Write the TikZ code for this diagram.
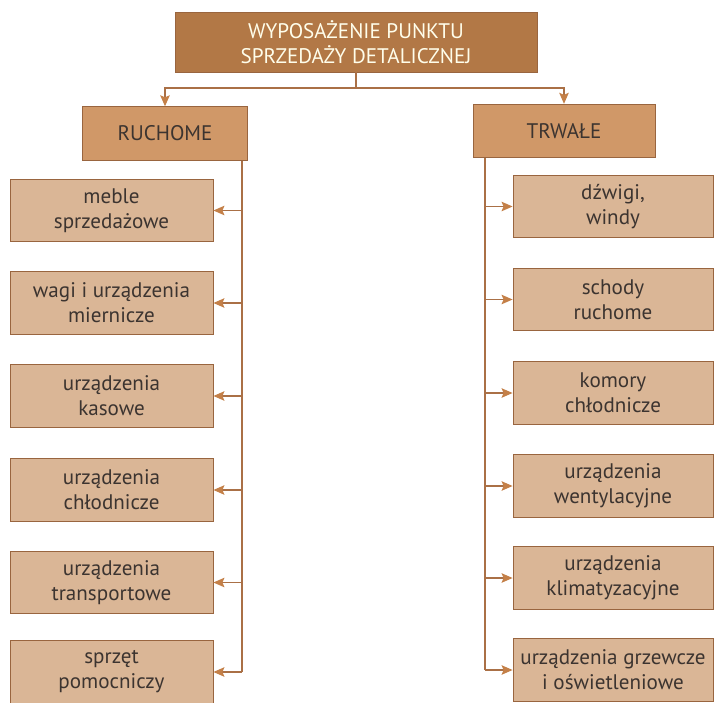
\documentclass[tikz,border=0pt]{standalone}
\usepackage{fontspec}
\setmainfont{PT Sans}
\usetikzlibrary{arrows.meta,positioning}
\definecolor{topcolor}{RGB}{178,120,70}
\definecolor{groupcolor}{RGB}{208,152,104}
\definecolor{itemcolor}{RGB}{218,182,150}
\definecolor{linecolor}{RGB}{170,112,70}
\definecolor{tipcolor}{RGB}{196,128,72}
\definecolor{textcolor}{RGB}{60,52,48}

\begin{document}
\begin{tikzpicture}[
    x=0.02cm, y=-0.02cm,
    box/.style={rectangle, draw=linecolor!90!black, line width=0.5pt, align=center, text=textcolor, font=\fontsize{12}{14.2}\selectfont},
    topbox/.style={box, fill=topcolor, text=white!92!yellow, minimum width=7.24cm, minimum height=1.2cm},
    groupbox/.style={box, fill=groupcolor, minimum height=1.07cm},
    leftitem/.style={box, fill=itemcolor, minimum width=4.06cm, minimum height=1.25cm},
    rightitem/.style={box, fill=itemcolor, minimum width=4cm, minimum height=1.25cm},
    line/.style={draw=linecolor, line width=0.7pt},
    arrow/.style={line, -{Stealth[length=2.2mm,width=1.9mm,inset=0.4mm,color=tipcolor]}}
]
    \useasboundingbox (0,0) rectangle (714,703);

    % Root
    \node[topbox] (root) at (356,42) {WYPOSAŻENIE PUNKTU\\SPRZEDAŻY DETALICZNEJ};

    % Two groups
    \node[groupbox, minimum width=3.3cm] (ruch) at (165,133.5) {RUCHOME};
    \node[groupbox, minimum width=3.64cm] (trw) at (564,131) {TRWAŁE};

    % Left items
    \node[leftitem] (m1) at (111.5,210.5) {meble\\sprzedażowe};
    \node[leftitem] (m2) at (111.5,303) {wagi i urządzenia\\miernicze};
    \node[leftitem] (m3) at (111.5,396) {urządzenia\\kasowe};
    \node[leftitem] (m4) at (111.5,490) {urządzenia\\chłodnicze};
    \node[leftitem] (m5) at (111.5,582.5) {urządzenia\\transportowe};
    \node[leftitem] (m6) at (111.5,672) {sprzęt\\pomocniczy};

    % Right items
    \node[rightitem] (t1) at (613,206.5) {dźwigi,\\windy};
    \node[rightitem] (t2) at (613,299.5) {schody\\ruchome};
    \node[rightitem] (t3) at (613,393) {komory\\chłodnicze};
    \node[rightitem] (t4) at (613,486) {urządzenia\\wentylacyjne};
    \node[rightitem] (t5) at (613,578) {urządzenia\\klimatyzacyjne};
    \node[rightitem] (t6) at (613,670) {urządzenia grzewcze\\i oświetleniowe};

    % Root to groups
    \coordinate (split) at (356,88);
    \draw[line] (root) -- (split);
    \draw[arrow] (split) -| (ruch);
    \draw[arrow] (split) -| (trw);

    % Trunks
    \coordinate (ltrunk) at (242,0);
    \coordinate (rtrunk) at (485,0);
    \draw[line] (ruch.south -| ltrunk) -- (ltrunk |- m6);
    \draw[line] (trw.south -| rtrunk) -- (rtrunk |- t6);

    % Arrows to items
    \draw[arrow] (ltrunk |- m1) -- (m1);
    \draw[arrow] (ltrunk |- m2) -- (m2);
    \draw[arrow] (ltrunk |- m3) -- (m3);
    \draw[arrow] (ltrunk |- m4) -- (m4);
    \draw[arrow] (ltrunk |- m5) -- (m5);
    \draw[arrow] (ltrunk |- m6) -- (m6);

    \draw[arrow] (rtrunk |- t1) -- (t1);
    \draw[arrow] (rtrunk |- t2) -- (t2);
    \draw[arrow] (rtrunk |- t3) -- (t3);
    \draw[arrow] (rtrunk |- t4) -- (t4);
    \draw[arrow] (rtrunk |- t5) -- (t5);
    \draw[arrow] (rtrunk |- t6) -- (t6);
\end{tikzpicture}
\end{document}
